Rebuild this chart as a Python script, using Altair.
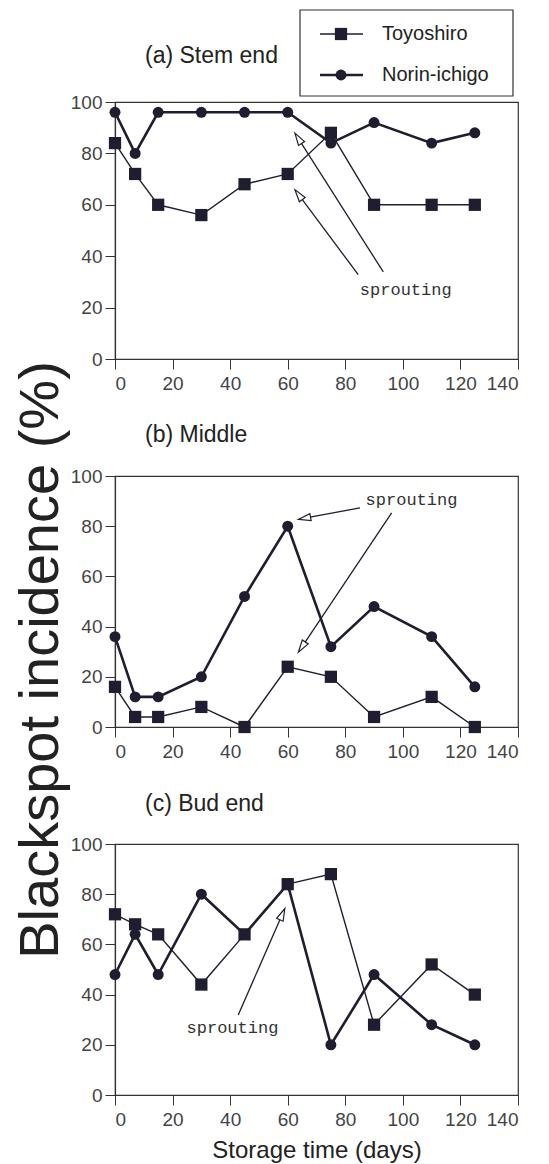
import math
import altair as alt
import pandas as pd

# ---------------- data ----------------
days = [0, 7, 15, 30, 45, 60, 75, 90, 110, 125]
varieties = ["Toyoshiro", "Norin-ichigo"]

stem_toyoshiro = [84, 72, 60, 56, 68, 72, 88, 60, 60, 60]
stem_norin = [96, 80, 96, 96, 96, 96, 84, 92, 84, 88]
middle_toyoshiro = [16, 4, 4, 8, 0, 24, 20, 4, 12, 0]
middle_norin = [36, 12, 12, 20, 52, 80, 32, 48, 36, 16]
bud_toyoshiro = [72, 68, 64, 44, 64, 84, 88, 28, 52, 40]
bud_norin = [48, 64, 48, 80, 64, 84, 20, 48, 28, 20]

panel_titles = ["(a) Stem end", "(b) Middle", "(c) Bud end"]
x_ticks = [0, 20, 40, 60, 80, 100, 120, 140]
y_ticks = [0, 20, 40, 60, 80, 100]
x_title = "Storage time (days)"
y_title = "Blackspot incidence (%)"
note_text = "sprouting"

# annotation label centre (day, %)
note_a = [101, 27]
note_b = [103, 90.6]
note_c = [40.8, 26.8]
# arrows: start day, start %, tip day, tip %
arrows_a = [[84.5, 32.8, 62.5, 65.9], [93.2, 33.9, 62.5, 87.9]]
arrows_b = [[85.1, 87.3, 63.7, 82.7], [96.1, 85.3, 63.7, 29.8]]
arrows_c = [[42.8, 31.9, 59.0, 74.3]]

# ---------------- style ----------------
INK = "#1e1e30"
AXIS_INK = "#333333"
LABEL_INK = "#444444"
FONT = "Liberation Sans"
MONO = "Liberation Mono"
W = 403
HEIGHTS = [257, 251, 251]
SPACING = 117
MARKERS = ["square", "circle"]
MARKER_SIZES = [150, 120]
LINE_WIDTHS = [1.4, 2.6]
ARROW_PATH = "M0,-1L0.55,0.9L-0.55,0.9Z"
ARROW_SIZE = 169
ARROW_UNIT = math.sqrt(ARROW_SIZE) / 2


def x_enc(show_title):
    return alt.X(
        "day:Q",
        scale=alt.Scale(domain=[0, 140], nice=False, zero=False),
        axis=alt.Axis(
            values=x_ticks,
            title=x_title if show_title else None,
            titleFont=FONT,
            titleFontSize=24,
            titleFontWeight="normal",
            titleColor="#222222",
            titlePadding=9,
        ),
    )


def y_enc():
    return alt.Y(
        "val:Q",
        scale=alt.Scale(domain=[0, 100], nice=False),
        axis=alt.Axis(values=y_ticks, title=None),
    )


def panel(idx, series_vals, note_pos, arrows, height, legend=False, ytitle=False, xtitle=False):
    X = x_enc(xtitle)
    Y = y_enc()
    layers = []

    # series lines then markers
    for v, vals, lw in zip(varieties, series_vals, LINE_WIDTHS):
        df = pd.DataFrame({"day": days, "val": vals, "variety": v})
        layers.append(
            alt.Chart(df).mark_line(color=INK, strokeWidth=lw).encode(x=X, y=Y, order="day:Q")
        )
    for v, vals, shp, sz in zip(varieties, series_vals, MARKERS, MARKER_SIZES):
        df = pd.DataFrame({"day": days, "val": vals, "variety": v})
        layers.append(
            alt.Chart(df)
            .mark_point(shape=shp, size=sz, filled=True, color=INK, opacity=1)
            .encode(x=X, y=Y)
        )

    # annotation arrows
    px_x = W / 140.0
    px_y = height / 100.0
    rows = []
    for sx, sy, tx, ty in arrows:
        dxp = (tx - sx) * px_x
        dyp = -(ty - sy) * px_y
        L = math.hypot(dxp, dyp)
        ux, uy = dxp / L, dyp / L
        cx = tx - ux * ARROW_UNIT / px_x
        cy = ty + uy * ARROW_UNIT / px_y
        ang = math.degrees(math.atan2(dxp, -dyp)) % 360
        rows.append({"day": sx, "val": sy, "day2": cx, "val2": cy, "hx": cx, "hy": cy, "ang": ang})
    adf = pd.DataFrame(rows)
    layers.append(
        alt.Chart(adf)
        .mark_rule(color=INK, strokeWidth=1.3)
        .encode(x=X, y=Y, x2="day2:Q", y2="val2:Q")
    )
    hdf = pd.DataFrame({"day": adf["hx"], "val": adf["hy"], "ang": adf["ang"]})
    layers.append(
        alt.Chart(hdf)
        .mark_point(shape=ARROW_PATH, size=ARROW_SIZE, filled=True, fill="white",
                    stroke=INK, strokeWidth=1.2, opacity=1)
        .encode(x=X, y=Y, angle=alt.Angle("ang:Q", scale=None))
    )
    ndf = pd.DataFrame({"day": [note_pos[0]], "val": [note_pos[1]], "t": [note_text]})
    layers.append(
        alt.Chart(ndf)
        .mark_text(font=MONO, fontSize=17, color="#333333", align="center", baseline="middle")
        .encode(x=X, y=Y, text="t:N")
    )

    # panel title
    tpos = [(30, -46), (30, -41), (30, -40)][idx]
    layers.append(
        alt.Chart(pd.DataFrame({"t": [panel_titles[idx]]}))
        .mark_text(font=FONT, fontSize=23, color="#222222", align="left", baseline="middle")
        .encode(x=alt.value(tpos[0]), y=alt.value(tpos[1]), text="t:N")
    )

    if legend:
        layers.append(
            alt.Chart(pd.DataFrame({"a": [0]}))
            .mark_rect(fill="white", stroke=AXIS_INK, strokeWidth=1.2)
            .encode(x=alt.value(185), x2=alt.value(398), y=alt.value(-92), y2=alt.value(-6))
        )
        for i, (v, shp, sz, lw) in enumerate(zip(varieties, MARKERS, MARKER_SIZES, LINE_WIDTHS)):
            ly = -68 + 41 * i
            ldf = pd.DataFrame({"t": [v]})
            layers.append(
                alt.Chart(ldf).mark_rule(color=INK, strokeWidth=lw)
                .encode(x=alt.value(205), x2=alt.value(248), y=alt.value(ly))
            )
            layers.append(
                alt.Chart(ldf).mark_point(shape=shp, size=sz, filled=True, color=INK, opacity=1)
                .encode(x=alt.value(226), y=alt.value(ly))
            )
            layers.append(
                alt.Chart(ldf).mark_text(font=FONT, fontSize=20, color="#222222",
                                         align="left", baseline="middle")
                .encode(x=alt.value(267), y=alt.value(ly), text="t:N")
            )

    if ytitle:
        layers.append(
            alt.Chart(pd.DataFrame({"t": [y_title]}))
            .mark_text(font=FONT, fontSize=56, color="#222222", angle=270,
                       align="center", baseline="middle")
            .encode(x=alt.value(-74), y=alt.value(184), text="t:N")
        )

    return alt.layer(*layers).properties(width=W, height=height)


pa = panel(0, [stem_toyoshiro, stem_norin], note_a, arrows_a, HEIGHTS[0], legend=True)
pb = panel(1, [middle_toyoshiro, middle_norin], note_b, arrows_b, HEIGHTS[1], ytitle=True)
pc = panel(2, [bud_toyoshiro, bud_norin], note_c, arrows_c, HEIGHTS[2], xtitle=True)

chart = (
    alt.vconcat(pa, pb, pc, spacing=SPACING, bounds="flush")
    .properties(padding={"left": 4, "top": 0, "right": 5, "bottom": 0}, background="white")
    .configure_view(stroke=AXIS_INK, strokeWidth=1.2)
    .configure_axis(
        grid=False,
        domainColor=AXIS_INK,
        domainWidth=1.2,
        tickColor=AXIS_INK,
        tickSize=10,
        tickWidth=1,
        labelColor=LABEL_INK,
        labelFont=FONT,
        labelFontSize=19,
    )
    .configure_axisX(labelPadding=5)
    .configure_axisY(labelPadding=3)
)

chart.save("out.html", embed_options={"renderer": "svg", "actions": False})
